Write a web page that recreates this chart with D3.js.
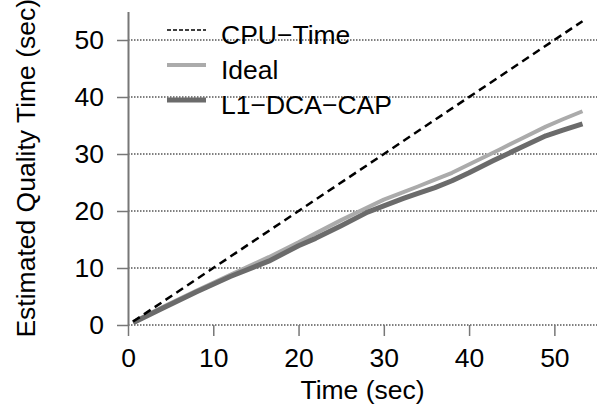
<!DOCTYPE html>
<html><head><meta charset="utf-8">
<script src="https://cdn.jsdelivr.net/npm/d3@7"></script>
<style>body{margin:0;background:#fff}svg{display:block}text{font-family:"Liberation Sans",Arial,Helvetica,sans-serif;fill:#000}</style>
</head><body><svg id="c" width="602" height="410"></svg>
<script>
const cpuTime = [0.6, 53.3];
const cpuVals = [0.6, 53.3];
const idealTime = [0.6, 4, 8, 12, 16.5, 20, 22, 25, 27.2, 30, 32.3, 34, 36, 38, 41, 43.6, 46, 49, 51, 53.3];
const idealVals = [0.5, 3.1, 6.0, 8.8, 11.9, 14.5, 16.1, 18.4, 20.0, 22.0, 23.3, 24.3, 25.5, 26.7, 28.9, 30.8, 32.6, 34.8, 36.1, 37.5];
const l1Time = [0.6, 4, 8, 12, 16.5, 20, 22, 25, 28.1, 30, 32.3, 34, 36, 38, 40, 42.8, 46, 49, 51, 53.3];
const l1Vals = [0.4, 2.9, 5.8, 8.5, 11.2, 13.9, 15.2, 17.4, 19.8, 20.9, 22.2, 23.1, 24.1, 25.3, 26.7, 28.8, 31.1, 33.2, 34.2, 35.3];
const xTicks = [0, 10, 20, 30, 40, 50];
const yTicks = [0, 10, 20, 30, 40, 50];
const legendLabels = ["CPU\u2212Time", "Ideal", "L1\u2212DCA\u2212CAP"];

const FS = 26.5;
const svg = d3.select("#c");
const L = 128, R = 597, T = 11.5, B = 325;
const x = d3.scaleLinear().domain([0, 55]).range([L, R]);
const y = d3.scaleLinear().domain([0, 55]).range([B, T]);

// grid
svg.append("g").selectAll("line").data(yTicks).join("line")
  .attr("x1", L).attr("x2", R).attr("y1", d => y(d)).attr("y2", d => y(d))
  .attr("stroke", "#000").attr("stroke-width", 1).attr("stroke-dasharray", "1.5,1.5");

// y axis
const ya = svg.append("g").attr("transform", `translate(${L},0)`)
  .call(d3.axisLeft(y).tickValues(yTicks).tickSize(11).tickPadding(13).tickSizeOuter(0));
ya.select(".domain").attr("stroke", "#777").attr("stroke-width", 2);
ya.selectAll(".tick line").attr("stroke", "#777").attr("stroke-width", 1.5);
ya.selectAll(".tick text").attr("font-size", FS).attr("font-family", "Liberation Sans").attr("fill", "#000");

// x axis
const xa = svg.append("g").attr("transform", `translate(0,${B})`)
  .call(d3.axisBottom(x).tickValues(xTicks).tickSize(11).tickPadding(12).tickSizeOuter(0));
xa.select(".domain").remove();
xa.selectAll(".tick line").attr("stroke", "#777").attr("stroke-width", 1.5);
xa.selectAll(".tick text").attr("font-size", FS).attr("font-family", "Liberation Sans").attr("fill", "#000");

// axis labels
svg.append("text").attr("x", (L + R) / 2).attr("y", 399).attr("text-anchor", "middle")
  .attr("font-size", FS).text("Time (sec)");
svg.append("text").attr("transform", `translate(35,${(T + B) / 2}) rotate(-90)`).attr("text-anchor", "middle")
  .attr("font-size", FS).text("Estimated Quality Time (sec)");

const line = d3.line().x(d => x(d[0])).y(d => y(d[1]));
svg.append("path").datum(d3.zip(idealTime, idealVals)).attr("d", line)
  .attr("fill", "none").attr("stroke", "#ababab").attr("stroke-width", 4).attr("stroke-linejoin", "round");
svg.append("path").datum(d3.zip(l1Time, l1Vals)).attr("d", line)
  .attr("fill", "none").attr("stroke", "#6b6b6b").attr("stroke-width", 5).attr("stroke-linejoin", "round");
svg.append("path").datum(d3.zip(cpuTime, cpuVals)).attr("d", line)
  .attr("fill", "none").attr("stroke", "#000").attr("stroke-width", 2.5).attr("stroke-dasharray", "8,5");

// legend
const lg = svg.append("g");
const styles = [
  {c: "#000", w: 1.5, dash: "4,2"},
  {c: "#ababab", w: 4, dash: null},
  {c: "#6b6b6b", w: 5, dash: null}
];
legendLabels.forEach((t, i) => {
  const yy = 30 + i * 35;
  lg.append("line").attr("x1", 167).attr("x2", 206).attr("y1", yy).attr("y2", yy)
    .attr("stroke", styles[i].c).attr("stroke-width", styles[i].w)
    .attr("stroke-dasharray", styles[i].dash);
  lg.append("text").attr("x", 221).attr("y", yy + 13.5).attr("font-size", FS).text(t);
});
</script></body></html>
